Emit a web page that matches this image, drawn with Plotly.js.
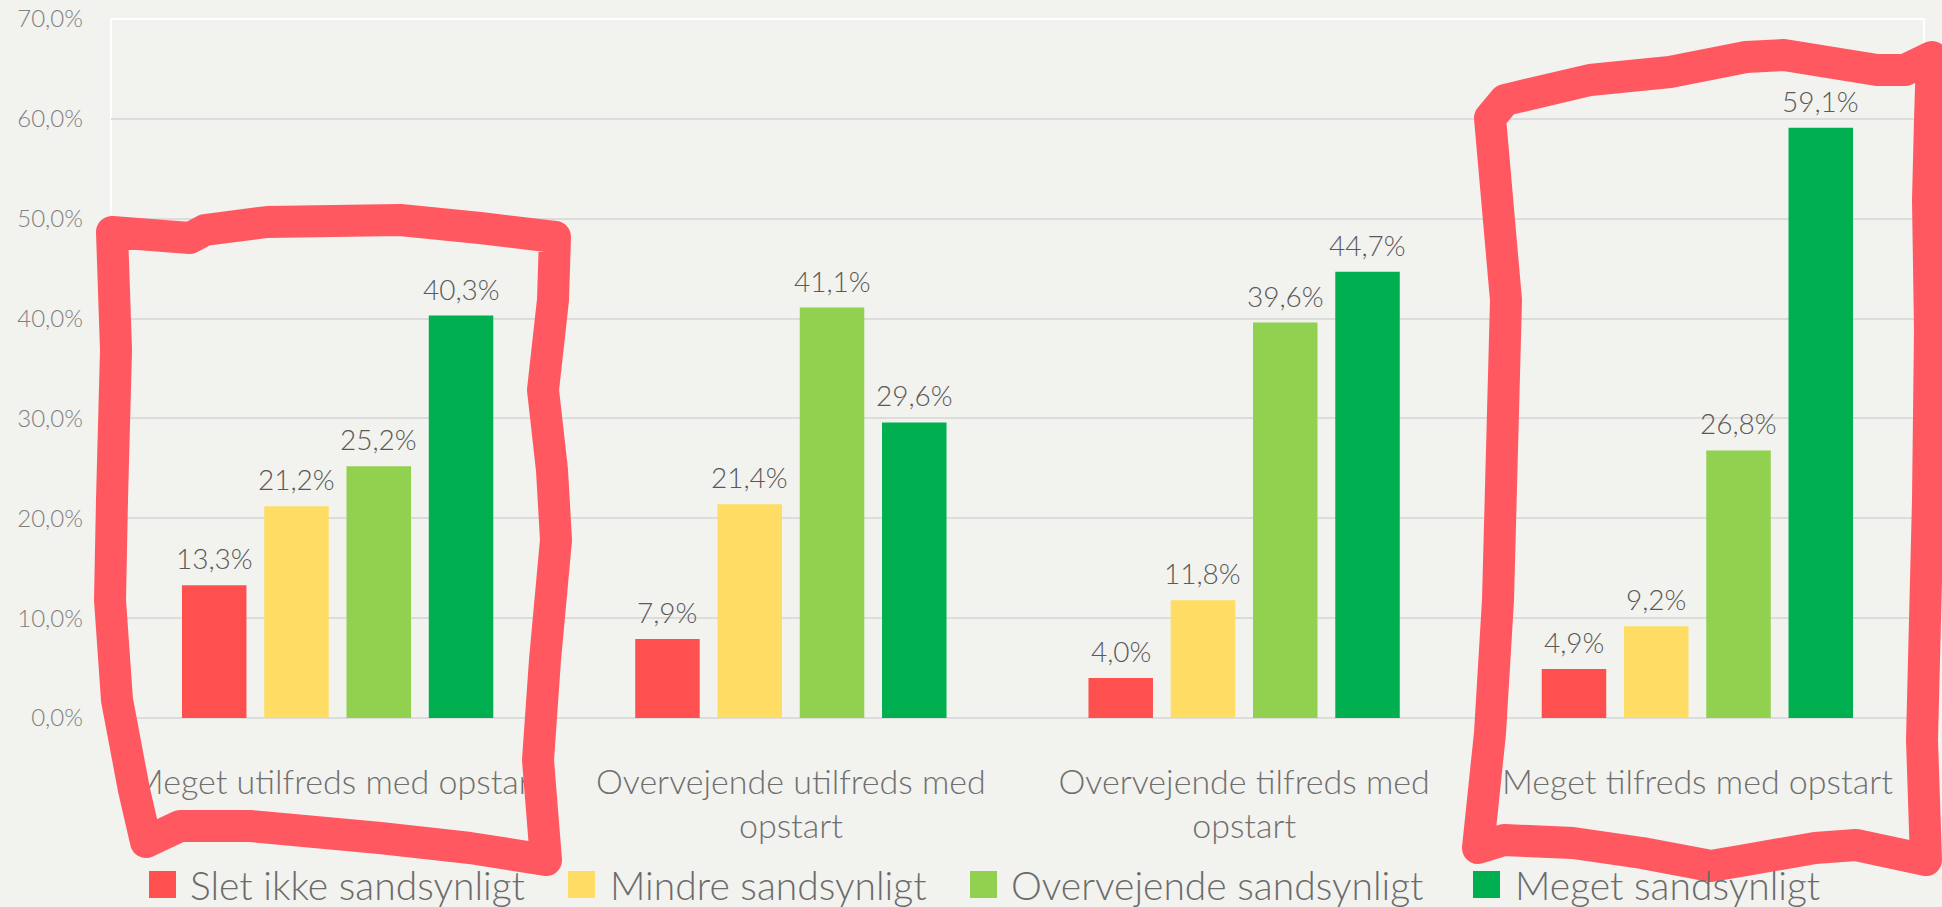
<!DOCTYPE html>
<html>
<head>
<meta charset="utf-8">
<script src="https://cdn.plot.ly/plotly-3.0.1.min.js"></script>
<style>
  html, body { margin: 0; padding: 0; background: #F2F2EE; }
  #chart { width: 1942px; height: 907px; }
  .shapelayer path { stroke-linejoin: round; stroke-linecap: round; }
</style>
</head>
<body>
<div id="chart"></div>
<script>
// ---- Data ----
const categories = [
  "Meget utilfreds med opstart",
  "Overvejende utilfreds med opstart",
  "Overvejende tilfreds med opstart",
  "Meget tilfreds med opstart"
];
const tickLabels = [
  "Meget utilfreds med opstart",
  "Overvejende utilfreds med<br>opstart",
  "Overvejende tilfreds med<br>opstart",
  "Meget tilfreds med opstart"
];
const seriesNames = [
  "Slet ikke sandsynligt",
  "Mindre sandsynligt",
  "Overvejende sandsynligt",
  "Meget sandsynligt"
];
const sletIkke    = [13.3, 7.9, 4.0, 4.9];
const mindre      = [21.2, 21.4, 11.8, 9.2];
const overvejende = [25.2, 41.1, 39.6, 26.8];
const meget       = [40.3, 29.6, 44.7, 59.1];
const yTicks = [0, 10, 20, 30, 40, 50, 60, 70];
const yTickText = ["0,0%", "10,0%", "20,0%", "30,0%", "40,0%", "50,0%", "60,0%", "70,0%"];

// ---- Styles ----
const seriesColors = ["#FF5050", "#FFDC64", "#92D050", "#00B050"];
const FONT = "Lato, 'Open Sans', sans-serif";
const W = 1942, H = 907;
const M = { l: 111, r: 18, t: 19, b: 189 };
const PW = W - M.l - M.r, PH = H - M.t - M.b;
const px = x => (x - M.l) / PW;
const py = y => (H - M.b - y) / PH;
const BARGAP = 0.274, GROUPGAP = 0.216;
const slotPx = (PW / categories.length) * (1 - BARGAP) / seriesNames.length;

const values = [sletIkke, mindre, overvejende, meget];
const traces = values.map((v, i) => ({
  type: "bar",
  name: seriesNames[i],
  x: categories,
  y: v,
  marker: { color: seriesColors[i], line: { width: 0 } },
  hoverinfo: "skip",
  showlegend: false
}));

// Value labels, placed over each bar through the axes
const annotations = [];
values.forEach((v, i) => {
  v.forEach((val, j) => {
    annotations.push({
      xref: "x", yref: "y", x: categories[j], y: val,
      xshift: (i - (seriesNames.length - 1) / 2) * slotPx,
      yshift: 8,
      xanchor: "center", yanchor: "bottom", showarrow: false,
      text: val.toFixed(1).replace(".", ",") + "%",
      font: { family: FONT, size: 28, color: "#595959", weight: 300 }
    });
  });
});

// Hand-drawn red outlines (decoration, pixel positions)
const outlineLeft = [
  [112,232],[190,238],[205,230],[267,222],[400,220],[480,228],[555,237],
  [553,300],[543,390],[552,470],[556,540],[545,660],[538,760],[546,860],
  [470,848],[380,838],[250,826],[180,826],[146,842],
  [134,790],[117,700],[110,600],[112,500],[116,350],[112,232]
];
const outlineRight = [
  [1490,118],[1505,100],[1590,80],[1670,72],[1746,57],[1784,55],[1877,70],[1905,70],[1932,57],
  [1930,120],[1928,200],[1930,330],[1928,500],[1922,740],[1926,860],
  [1856,845],[1815,848],[1746,860],[1711,866],[1642,853],[1573,843],[1504,840],[1478,848],
  [1490,733],[1498,600],[1506,300],[1490,118]
];
const toPath = pts => "M " + pts.map(p => px(p[0]).toFixed(5) + "," + py(p[1]).toFixed(5)).join(" L ") + " Z";
const redLine = { color: "rgb(255,88,96)", width: 32 };

const shapes = [
  { type: "rect", xref: "paper", yref: "paper", x0: 0, x1: 1, y0: 0, y1: 1,
    line: { color: "#FFFFFF", width: 2 }, layer: "below" },
  { type: "path", xref: "paper", yref: "paper", path: toPath(outlineLeft), line: redLine, layer: "above" },
  { type: "path", xref: "paper", yref: "paper", path: toPath(outlineRight), line: redLine, layer: "above" }
];

// Custom legend (layout positions)
const legendSquareX = [149, 568, 970, 1473];
const legendTextX = [188, 608, 1009, 1513];
const legendTop = 871, legendSize = 27, legendMid = 885;
seriesNames.forEach((name, i) => {
  shapes.push({
    type: "rect", xref: "paper", yref: "paper",
    x0: px(legendSquareX[i]), x1: px(legendSquareX[i] + legendSize),
    y0: py(legendTop + legendSize), y1: py(legendTop),
    fillcolor: seriesColors[i], line: { width: 0 }, layer: "below"
  });
  annotations.push({
    xref: "paper", yref: "paper", x: px(legendTextX[i]), y: py(legendMid),
    xanchor: "left", yanchor: "middle", showarrow: false, text: name,
    font: { family: FONT, size: 39, color: "#6B6B6B", weight: 300 }
  });
});

const layout = {
  width: W, height: H,
  margin: M,
  paper_bgcolor: "#F2F2EE",
  plot_bgcolor: "#F2F2EE",
  separators: ",.",
  barmode: "group",
  bargap: BARGAP,
  bargroupgap: GROUPGAP,
  showlegend: false,
  font: { family: FONT, weight: 300 },
  xaxis: {
    tickmode: "array",
    tickvals: categories,
    ticktext: tickLabels,
    tickfont: { family: FONT, size: 34, color: "#6F6F6F", weight: 300 },
    ticklabelstandoff: 41,
    showgrid: false, showline: false, zeroline: false, ticks: ""
  },
  yaxis: {
    range: [0, 70],
    tickmode: "array",
    tickvals: yTicks,
    ticktext: yTickText,
    tickfont: { family: FONT, size: 24, color: "#808080", weight: 300 },
    ticklabelstandoff: 27,
    showgrid: true, gridcolor: "#DCDCDC", gridwidth: 2,
    zeroline: true, zerolinecolor: "#DCDCDC", zerolinewidth: 2,
    showline: false, ticks: ""
  },
  shapes: shapes,
  annotations: annotations
};

Plotly.newPlot("chart", traces, layout, { displayModeBar: false, staticPlot: true });
</script>
</body>
</html>
